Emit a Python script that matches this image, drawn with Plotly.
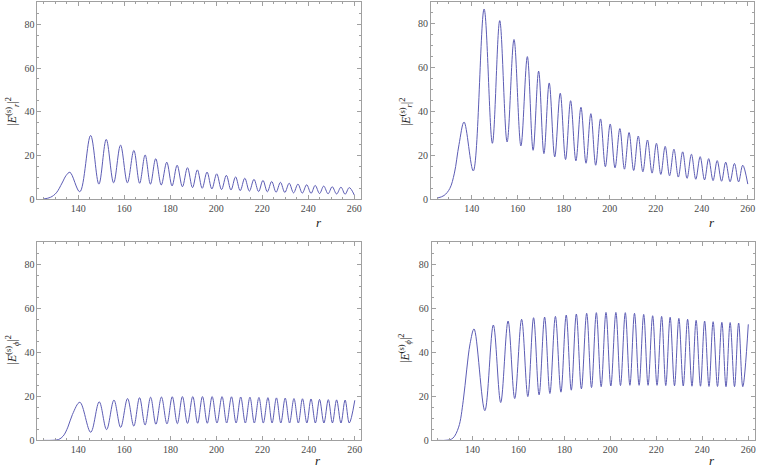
import plotly.graph_objects as go

# ---------------- data ----------------
# top row: |E_r|^2  -- extrema positions
top_peak_r = [145.4, 152.2, 158.4, 164.2, 169.1, 173.7, 178.5, 183.0, 187.5, 191.8, 196.0, 200.2,
              204.4, 208.4, 212.4, 216.4, 220.3, 224.1, 227.9, 231.7, 235.5, 239.3, 243.0, 246.7,
              250.4, 254.2, 257.8]
top_trough_r = [140.7, 149.0, 155.4, 161.4, 166.7, 171.4, 176.1, 180.8, 185.3, 189.7, 193.9, 198.1,
                202.3, 206.4, 210.4, 214.4, 218.4, 222.2, 226.0, 229.8, 233.6, 237.4, 241.2, 244.9,
                248.6, 252.3, 256.0]

# top-left panel
tl_rise_r = [125.0, 128.0, 130.5, 133.0, 134.8, 136.4]
tl_rise_v = [0.2, 1.0, 3.0, 7.5, 11.0, 12.4]
tl_peak_v = [29.2, 27.4, 24.8, 22.4, 20.3, 18.6, 17.0, 15.6, 14.5, 13.5, 12.5, 11.7, 11.0, 10.3,
             9.7, 9.2, 8.7, 8.2, 7.8, 7.4, 7.0, 6.7, 6.4, 6.1, 5.8, 5.6, 5.4]
tl_trough_v = [3.5, 7.0, 7.6, 7.6, 7.4, 7.0, 6.6, 6.2, 5.8, 5.4, 5.1, 4.8, 4.5, 4.3, 4.0, 3.8,
               3.6, 3.5, 3.3, 3.2, 3.0, 2.9, 2.8, 2.7, 2.6, 2.5, 2.4]
tl_end = (260.0, 2.0)

# top-right panel
tr_rise_r = [125.0, 128.0, 130.5, 132.5, 134.5, 136.7]
tr_rise_v = [0.6, 1.8, 5.0, 12.0, 25.0, 35.3]
tr_peak_v = [86.8, 81.5, 72.9, 65.1, 58.5, 53.1, 48.4, 45.0, 42.0, 39.1, 36.7, 34.4, 32.3, 30.5,
             28.9, 27.1, 25.6, 24.2, 22.9, 21.7, 20.6, 19.5, 18.6, 17.7, 17.0, 16.4, 15.6]
tr_trough_v = [13.0, 25.6, 26.2, 24.4, 22.4, 20.9, 19.4, 18.2, 17.6, 16.5, 15.6, 14.9, 14.4, 13.8,
               13.2, 12.6, 12.0, 11.4, 10.8, 10.2, 9.6, 9.2, 8.9, 8.6, 8.3, 8.1, 8.0]
tr_end = (260.0, 7.0)

# bottom row: |E_phi|^2 -- extrema positions
bot_peak_r = [140.7, 149.1, 155.5, 161.4, 166.6, 171.4, 176.1, 180.8, 185.2, 189.7, 193.9, 198.1,
              202.4, 206.5, 210.5, 214.5, 218.4, 222.3, 226.0, 229.8, 233.6, 237.3, 241.0, 244.7,
              248.5, 252.1, 255.8]
bot_trough_r = [145.4, 152.3, 158.4, 164.1, 169.0, 173.7, 178.5, 183.0, 187.4, 191.8, 196.0, 200.2,
                204.4, 208.5, 212.5, 216.4, 220.3, 224.1, 227.9, 231.7, 235.5, 239.2, 242.9, 246.6,
                250.3, 254.0, 257.6]

# bottom-left panel
bl_rise_r = [125.0, 129.0, 131.5, 133.5, 135.5, 137.5]
bl_rise_v = [0.0, 0.05, 0.4, 2.0, 6.0, 11.8]
bl_peak_v = [17.3, 17.5, 18.3, 19.0, 19.4, 19.6, 19.7, 19.8, 19.9, 19.9, 19.9, 19.9, 19.9, 19.8,
             19.7, 19.6, 19.5, 19.4, 19.3, 19.2, 19.0, 18.9, 18.8, 18.6, 18.5, 18.4, 18.3]
bl_trough_v = [3.7, 4.9, 5.9, 6.5, 7.0, 7.3, 7.5, 7.6, 7.7, 7.8, 7.8, 7.9, 7.9, 7.9, 7.9, 7.9,
               7.9, 7.9, 7.9, 7.9, 7.9, 7.9, 7.9, 7.9, 7.9, 7.9, 7.9]
bl_end = (260.0, 18.2)

# bottom-right panel
br_rise_r = [125.0, 129.0, 131.5, 134.0, 136.0, 137.5, 139.0]
br_rise_v = [0.0, 0.1, 1.0, 6.0, 18.0, 32.0, 44.0]
br_peak_v = [50.6, 52.4, 54.2, 55.0, 55.7, 56.0, 56.3, 56.9, 57.4, 57.7, 58.0, 58.1, 58.1, 58.0,
             57.7, 57.2, 56.6, 56.3, 55.9, 55.4, 55.0, 54.5, 54.2, 53.9, 53.6, 53.5, 53.3]
br_trough_v = [13.5, 17.2, 19.0, 19.9, 20.7, 21.3, 21.9, 22.8, 23.4, 24.0, 24.4, 24.7, 24.9, 25.0,
               25.0, 25.0, 25.0, 24.9, 24.8, 24.7, 24.6, 24.6, 24.5, 24.5, 24.4, 24.4, 24.4]
br_end = (260.0, 52.7)

x_ticks = [140, 160, 180, 200, 220, 240, 260]
y_ticks = [0, 20, 40, 60, 80]
x_range = [122.3, 262.7]
y_range = [0, 90]


def assemble(rise_r, rise_v, pr, pv, trr, tv, end):
    pts = list(zip(rise_r, rise_v)) + list(zip(pr, pv)) + list(zip(trr, tv)) + [end]
    pts.sort(key=lambda p: p[0])
    return [p[0] for p in pts], [p[1] for p in pts]


panels = [
    assemble(tl_rise_r, tl_rise_v, top_peak_r, tl_peak_v, top_trough_r, tl_trough_v, tl_end),
    assemble(tr_rise_r, tr_rise_v, top_peak_r, tr_peak_v, top_trough_r, tr_trough_v, tr_end),
    assemble(bl_rise_r, bl_rise_v, bot_peak_r, bl_peak_v, bot_trough_r, bl_trough_v, bl_end),
    assemble(br_rise_r, br_rise_v, bot_peak_r, br_peak_v, bot_trough_r, br_trough_v, br_end),
]

# ---------------- layout ----------------
W, H = 763, 476
frames = [  # (left, right, top, bottom) in pixels
    (37.5, 361.0, 2.3, 202.0),
    (431.5, 755.0, 2.0, 202.0),
    (37.5, 361.5, 245.3, 446.0),
    (432.3, 755.5, 245.3, 446.0),
]
LINE = "#5c5cb4"
FRAME = "#a0a0a0"
TICKFONT = dict(family="Liberation Serif", size=10, color="#4a4a4a")

fig = go.Figure()
layout = dict(width=W, height=H, autosize=False, margin=dict(l=0, r=0, t=0, b=0),
              paper_bgcolor="white", plot_bgcolor="white", showlegend=False,
              hovermode=False, dragmode=False)

for i, ((xs, ys), (l, r, t, b)) in enumerate(zip(panels, frames)):
    sfx = "" if i == 0 else str(i + 1)
    fig.add_trace(go.Scatter(x=xs, y=ys, mode="lines", xaxis="x" + sfx, yaxis="y" + sfx,
                             line=dict(color=LINE, width=1.0, shape="spline", smoothing=1.0),
                             hoverinfo="skip"))
    common = dict(showgrid=False, zeroline=False, showline=True, linecolor=FRAME, linewidth=1,
                  mirror="ticks", ticks="inside", ticklen=4, tickcolor=FRAME, tickwidth=1,
                  tickfont=TICKFONT, fixedrange=True,
                  minor=dict(ticks="inside", ticklen=2, tickcolor=FRAME, dtick=5, showgrid=False))
    layout["xaxis" + sfx] = dict(common, domain=[l / W, r / W], range=x_range,
                                 tickvals=x_ticks, ticktext=[str(v) for v in x_ticks],
                                 anchor="y" + sfx)
    layout["yaxis" + sfx] = dict(common, domain=[1 - b / H, 1 - t / H], range=y_range,
                                 tickvals=y_ticks, ticktext=[str(v) for v in y_ticks],
                                 anchor="x" + sfx)

fig.update_layout(**layout)

label_font = dict(family="Liberation Serif", size=12, color="#222222")
r_lab = "<i>r</i>"
ylab_r = "|<i>E</i><sup>(s)</sup><sub><i>r</i></sub>|<sup>2</sup>"
ylab_phi = "|<i>E</i><sup>(s)</sup><sub><i>ϕ</i></sub>|<sup>2</sup>"
xlabel_pos = [(319, 225), (713, 225), (318, 466), (713, 466)]
ylabel_pos = [(13, 113, ylab_r), (407, 113, ylab_r), (13, 354, ylab_phi), (406, 352, ylab_phi)]
for (px, py) in xlabel_pos:
    fig.add_annotation(x=px / W, y=1 - py / H, xref="paper", yref="paper", text=r_lab,
                       showarrow=False, font=dict(label_font, size=13), xanchor="center", yanchor="middle")
for (px, py, txt) in ylabel_pos:
    fig.add_annotation(x=px / W, y=1 - py / H, xref="paper", yref="paper", text=txt,
                       showarrow=False, font=label_font, textangle=-90,
                       xanchor="center", yanchor="middle")

fig.write_html("out.html", config={"displayModeBar": False, "staticPlot": True},
               post_script="document.body.style.margin='0px';document.body.style.overflow='hidden';")
